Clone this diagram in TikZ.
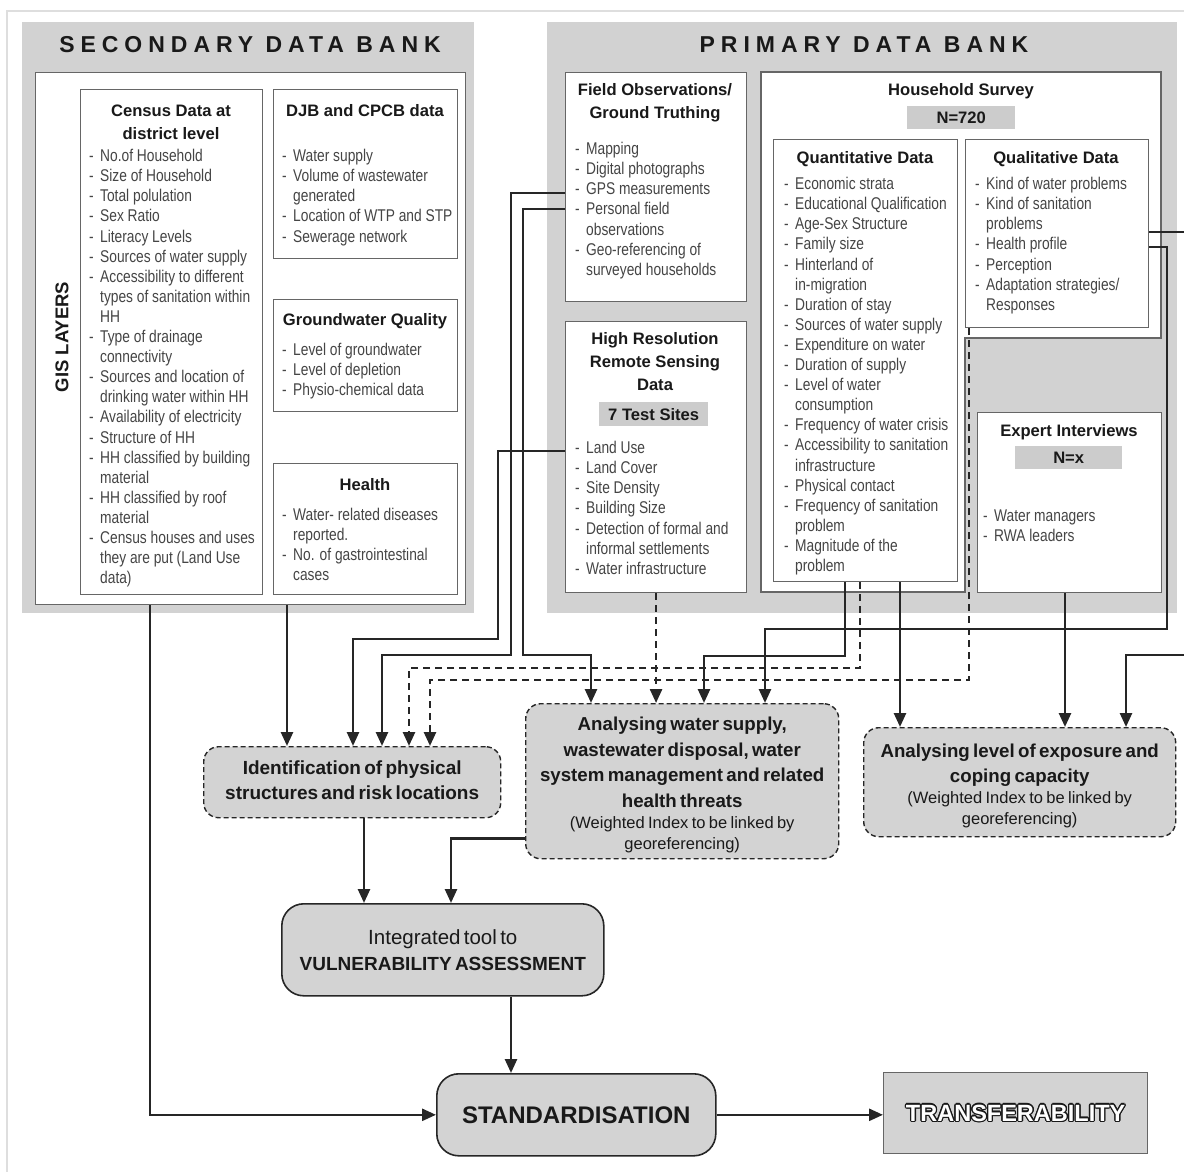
\documentclass[tikz,border=0pt]{standalone}
\usepackage{fontspec}
\setmainfont{Liberation Sans}
\newfontfamily\narrowfont{Liberation Sans}[FakeStretch=0.81]
\newfontfamily\spacedfont{Liberation Sans}[LetterSpace=26]
\usetikzlibrary{arrows.meta}
\definecolor{bankgray}{rgb}{0.824,0.824,0.824}
\definecolor{procgray}{rgb}{0.827,0.827,0.827}
\definecolor{taggray}{rgb}{0.80,0.80,0.80}
\definecolor{framegray}{rgb}{0.87,0.87,0.87}
\definecolor{boxline}{rgb}{0.40,0.40,0.40}
\definecolor{linecol}{rgb}{0.15,0.15,0.15}
\definecolor{headcol}{rgb}{0.10,0.10,0.10}
\definecolor{listcol}{rgb}{0.27,0.27,0.27}
\newcommand{\dl}{\strut\makebox[11pt][l]{-}}
\newcommand{\cl}{\strut\hspace*{11pt}}

\begin{document}
\begin{tikzpicture}[x=1pt,y=-1pt,line cap=butt,line join=miter,
>={Triangle[length=14pt,width=12pt]},
wbox/.style={draw=boxline,line width=1.1pt,fill=white,inner sep=0pt,anchor=north west},
hd/.style={font=\bfseries\fontsize{16.6}{23}\selectfont,text=headcol,align=center,anchor=north,inner sep=0pt,execute at begin node=\strut},
lst/.style={font=\narrowfont\fontsize{17}{20.1}\selectfont,text=listcol,align=left,anchor=north west,inner sep=0pt},
tag/.style={fill=taggray,font=\bfseries\fontsize{16.6}{20}\selectfont,text=headcol,inner sep=0pt,anchor=north west},
bank/.style={font=\spacedfont\bfseries\fontsize{23}{26}\selectfont,text=headcol},
proc/.style={draw=linecol,fill=procgray,line width=1.4pt,dash pattern=on 5pt off 3pt,rounded corners=15pt,inner sep=0pt,anchor=north west,align=center,text=headcol},
final/.style={draw=linecol,fill=procgray,line width=1.6pt,rounded corners=22pt,inner sep=0pt,anchor=north west,align=center,text=headcol},
conn/.style={draw=linecol,line width=2.6pt},
dconn/.style={conn,dash pattern=on 7pt off 5pt}]
\useasboundingbox (0,0) rectangle (1184,1171);
\draw[framegray,line width=2pt] (7,1180) -- (7,11) -- (1190,11);

% secondary data bank
\fill[bankgray] (22,22) rectangle (474,613);
\node[bank] (sectitle) at (250,45) {SECONDARY DATA BANK};
\node[wbox,minimum width=430,minimum height=532] (secinner) at (35,72) {};
\node[rotate=90,font=\bfseries\fontsize{18.5}{20}\selectfont,text=headcol] (gis) at (62,337) {GIS LAYERS};
\node[wbox,minimum width=182,minimum height=505] (census) at (80,89) {};
\node[wbox,minimum width=184,minimum height=169] (djb) at (273,89) {};
\node[wbox,minimum width=184,minimum height=112] (gwq) at (273,299) {};
\node[wbox,minimum width=184,minimum height=131] (health) at (273,463) {};
\node[hd] (censushd) at (171,104.5) {Census Data at\\district level};
\node[hd] (djbhd) at (365,99.9) {DJB and CPCB data};
\node[hd] (gwqhd) at (365,308.9) {Groundwater Quality};
\node[hd] (healthhd) at (365,473.9) {Health};
\node[lst] (censuslst) at (89,147.4) {\dl No.of Household\\
\dl Size of Household\\
\dl Total polulation\\
\dl Sex Ratio\\
\dl Literacy Levels\\
\dl Sources of water supply\\
\dl Accessibility to different\\
\cl types of sanitation within\\
\cl HH\\
\dl Type of drainage\\
\cl connectivity\\
\dl Sources and location of\\
\cl drinking water within HH\\
\dl Availability of electricity\\
\dl Structure of HH\\
\dl HH classified by building\\
\cl material\\
\dl HH classified by roof\\
\cl material\\
\dl Census houses and uses\\
\cl they are put (Land Use\\
\cl data)};
\node[lst] (djblst) at (282,147.4) {\dl Water supply\\
\dl Volume of wastewater\\
\cl generated\\
\dl Location of WTP and STP\\
\dl Sewerage network};
\node[lst] (gwqlst) at (282,341.4) {\dl Level of groundwater\\
\dl Level of depletion\\
\dl Physio-chemical data};
\node[lst] (healthlst) at (282,506.4) {\dl Water- related diseases\\
\cl reported.\\
\dl No. of gastrointestinal\\
\cl cases};

% primary data bank
\fill[bankgray] (547,22) rectangle (1177,613);
\node[bank] (prititle) at (864,45) {PRIMARY DATA BANK};
\node[wbox,minimum width=181,minimum height=229] (fo) at (565,72) {};
\node[wbox,minimum width=181,minimum height=271] (rs) at (565,321) {};
\draw[boxline,line width=1.1pt,fill=white] (761,72) -- (1161,72) -- (1161,338) -- (965,338) -- (965,592) -- (761,592) -- cycle;
\node[wbox,minimum width=184,minimum height=442] (qd) at (773,139) {};
\node[wbox,minimum width=183,minimum height=188] (ql) at (965,139) {};
\node[wbox,minimum width=184,minimum height=180] (ex) at (977,412) {};
\node[hd] (fohd) at (655,83.2) {Field Observations/\\Ground Truthing};
\node[hd] (rshd) at (655,332.2) {High Resolution\\Remote Sensing\\Data};
\node[tag,minimum width=109,minimum height=24] (sites) at (599,402) {7 Test Sites};
\node[hd] (hshd) at (961,78.9) {Household Survey};
\node[tag,minimum width=108,minimum height=23] (hsn) at (907,106) {N=720};
\node[hd] (qdhd) at (865,146.9) {Quantitative Data};
\node[hd] (qlhd) at (1056,146.9) {Qualitative Data};
\node[hd] (exhd) at (1069,419.9) {Expert Interviews};
\node[tag,minimum width=107,minimum height=23] (exn) at (1015,446) {N=x};
\node[lst] (folst) at (575,140.4) {\dl Mapping\\
\dl Digital photographs\\
\dl GPS measurements\\
\dl Personal field\\
\cl observations\\
\dl Geo-referencing of\\
\cl surveyed households};
\node[lst] (rslst) at (575,439.4) {\dl Land Use\\
\dl Land Cover\\
\dl Site Density\\
\dl Building Size\\
\dl Detection of formal and\\
\cl informal settlements\\
\dl Water infrastructure};
\node[lst] (qdlst) at (784,175.4) {\dl Economic strata\\
\dl Educational Qualification\\
\dl Age-Sex Structure\\
\dl Family size\\
\dl Hinterland of\\
\cl in-migration\\
\dl Duration of stay\\
\dl Sources of water supply\\
\dl Expenditure on water\\
\dl Duration of supply\\
\dl Level of water\\
\cl consumption\\
\dl Frequency of water crisis\\
\dl Accessibility to sanitation\\
\cl infrastructure\\
\dl Physical contact\\
\dl Frequency of sanitation\\
\cl problem\\
\dl Magnitude of the\\
\cl problem};
\node[lst] (qllst) at (975,175.4) {\dl Kind of water problems\\
\dl Kind of sanitation\\
\cl problems\\
\dl Health profile\\
\dl Perception\\
\dl Adaptation strategies/\\
\cl Responses};
\node[lst] (exlst) at (983,507.4) {\dl Water managers\\
\dl RWA leaders};

% analysis boxes
\node[proc,minimum width=297,minimum height=71,text width=290] (ident) at (203,746)
  {{\bfseries\fontsize{19}{25}\selectfont Identification of physical\\structures and risk locations\par}\vspace*{5pt}};
\node[proc,minimum width=313,minimum height=155,text width=306] (aws) at (525,703)
  {{\bfseries\fontsize{18.7}{25.5}\selectfont Analysing water supply,\\wastewater disposal, water\\system management and related\\health threats\par}%
   {\fontsize{16.5}{21}\selectfont (Weighted Index to be linked by\\georeferencing)\par}\vspace*{-7pt}};
\node[proc,minimum width=312,minimum height=109,text width=305] (alc) at (863,727)
  {{\bfseries\fontsize{18.7}{25}\selectfont Analysing level of exposure and\\coping capacity\par}%
   {\fontsize{16.5}{21}\selectfont (Weighted Index to be linked by\\georeferencing)\par}\vspace*{-8pt}};
\node[final,minimum width=322,minimum height=92,text width=315] (itool) at (281,903)
  {{\fontsize{20.5}{26}\selectfont Integrated tool to\par}%
   {\bfseries\fontsize{19}{26}\selectfont VULNERABILITY ASSESSMENT\par}};
\node[final,minimum width=279,minimum height=82] (std) at (436,1073)
  {\bfseries\fontsize{24}{26}\selectfont STANDARDISATION};
\node[draw=boxline,line width=1.3pt,fill=procgray,minimum width=264,minimum height=81,inner sep=0pt,anchor=north west] (tr) at (883,1072) {};
\foreach \a in {0,30,...,330}
  \node[font=\bfseries\fontsize{23.5}{26}\selectfont,text=headcol] (tro\a) at ([shift={(\a:1.3pt)}]tr.center) {TRANSFERABILITY};
\node[font=\bfseries\fontsize{23.5}{26}\selectfont,text=white] (trtext) at (tr.center) {TRANSFERABILITY};

% connectors
\coordinate (c1) at ([xshift=115pt]secinner.south west);
\coordinate (c2) at ([xshift=252pt]secinner.south west);
\coordinate (lu) at ([yshift=-130pt]rs.north west);
\coordinate (gps) at ([yshift=-121pt]fo.north west);
\coordinate (pfo) at ([yshift=-137pt]fo.north west);
\coordinate (q1) at ([xshift=72pt]qd.south west);
\coordinate (q2) at ([xshift=87pt]qd.south west);
\coordinate (q3) at ([xshift=127pt]qd.south west);
\coordinate (l1) at ([xshift=4pt]ql.south west);
\coordinate (l2) at ([yshift=-108pt]ql.north east);
\coordinate (l3) at ([yshift=-93pt]ql.north east);
\coordinate (e1) at ([xshift=88pt]ex.south west);
\coordinate (i1) at ([xshift=161pt]ident.south west);
\coordinate (a1) at ([yshift=21pt]aws.south west);
\coordinate (t1) at ([xshift=230pt]itool.south west);

\draw[conn,->] (c1) |- (std.west);
\draw[conn,->] (c2) -- (c2 |- ident.north);
\draw[conn,->] (lu) -| (498,639) -| ([xshift=150pt]ident.north west);
\draw[conn,->] (gps) -| (511,655) -| ([xshift=179pt]ident.north west);
\draw[conn,->] (pfo) -| (523,655) -| ([xshift=66pt]aws.north west);
\draw[dconn,->] (rs.south) -- (rs.south |- aws.north);
\draw[conn,->] (q1) -- ++(0,74) -| ([xshift=179pt]aws.north west);
\draw[dconn,->] (q2) -- ++(0,86) -| ([xshift=206pt]ident.north west);
\draw[conn,->] (q3) -- (q3 |- alc.north);
\draw[dconn,->] (l1) -- ++(0,352) -| ([xshift=227pt]ident.north west);
\draw[conn,->] (l2) -| (1167,629) -| ([xshift=240pt]aws.north west);
\draw[conn,->] (l3) -| (1195,655) -| ([xshift=263pt]alc.north west);
\draw[conn,->] (e1) -- (e1 |- alc.north);
\draw[conn,->] (i1) -- (i1 |- itool.north);
\draw[conn,->] (a1) -| ([xshift=170pt]itool.north west);
\draw[conn,->] (t1) -- (t1 |- std.north);
\draw[conn,->] (std.east) -- (std.east -| tr.west);
\end{tikzpicture}
\end{document}
